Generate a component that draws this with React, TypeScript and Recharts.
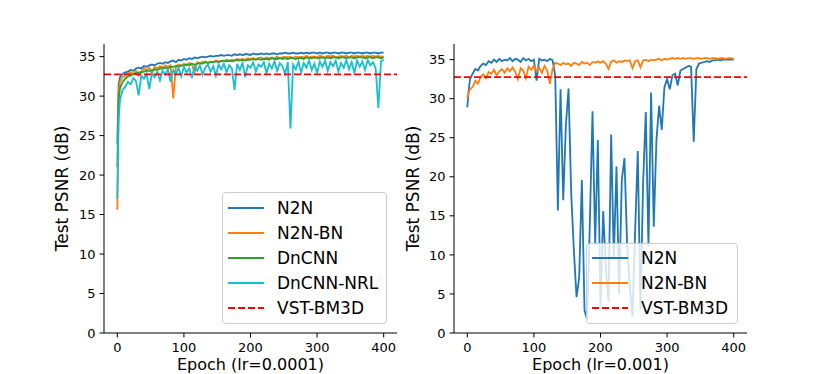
import { LineChart, Line, XAxis, YAxis, ReferenceLine } from 'recharts'

// x grid shared by every series: epoch 0, 2, then every 4 epochs up to 400
const EPOCHS = [0, 2, ...Array.from({ length: 100 }, (_, i) => 4 * (i + 1))]
const X_TICKS = [0, 100, 200, 300, 400]
const Y_TICKS = [0, 5, 10, 15, 20, 25, 30, 35]
const VST_BM3D = 32.75

// left panel, lr=0.0001
const N2N_L = [
  24.0, 31.5, 32.4, 32.8, 33.0, 33.1, 33.3, 33.2, 33.5, 33.6,
  33.5, 33.8, 33.7, 33.9, 34.0, 33.9, 34.1, 34.2, 34.1, 34.3,
  34.2, 34.4, 34.5, 34.3, 34.6, 34.5, 34.7, 34.6, 34.8, 34.7,
  34.9, 34.8, 34.9, 35.0, 34.9, 35.0, 35.1, 35.0, 35.1, 35.1,
  35.2, 35.1, 35.2, 35.2, 35.1, 35.3, 35.2, 35.3, 35.2, 35.3,
  35.3, 35.2, 35.4, 35.3, 35.3, 35.4, 35.3, 35.4, 35.3, 35.4,
  35.4, 35.3, 35.4, 35.4, 35.5, 35.4, 35.4, 35.5, 35.4, 35.4,
  35.5, 35.4, 35.5, 35.4, 35.5, 35.5, 35.4, 35.5, 35.4, 35.5,
  35.5, 35.4, 35.5, 35.5, 35.4, 35.5, 35.5, 35.4, 35.5, 35.5,
  35.4, 35.5, 35.5, 35.4, 35.5, 35.5, 35.4, 35.5, 35.5, 35.4,
  35.5, 35.5,
]
const N2N_BN_L = [
  15.6, 30.7, 31.8, 32.4, 32.6, 32.9, 33.0, 32.8, 33.2, 32.6,
  33.1, 33.5, 33.3, 33.6, 32.8, 33.7, 33.5, 33.8, 33.6, 33.9,
  33.7, 33.9, 29.7, 33.8, 34.0, 33.8, 34.1, 33.9, 34.2, 34.0,
  33.0, 34.3, 34.1, 34.3, 34.4, 34.2, 34.4, 34.3, 34.5, 34.4,
  34.5, 34.4, 34.6, 34.5, 34.6, 34.5, 34.7, 34.6, 34.7, 34.6,
  34.8, 34.7, 34.8, 34.7, 34.8, 34.9, 34.7, 34.9, 34.8, 34.9,
  34.8, 35.0, 34.8, 34.9, 35.0, 34.9, 35.0, 34.8, 35.0, 34.9,
  35.0, 34.9, 35.1, 34.9, 35.0, 35.0, 34.9, 35.1, 35.0, 34.9,
  35.1, 35.0, 35.1, 34.9, 35.0, 35.1, 35.0, 35.1, 34.9, 35.1,
  35.0, 35.1, 35.0, 35.1, 35.0, 35.1, 35.0, 35.1, 35.0, 35.1,
  35.0, 35.0,
]
const DNCNN_L = [
  21.0, 29.5, 31.0, 31.8, 32.2, 32.5, 32.6, 32.8, 32.9, 33.0,
  33.0, 33.1, 33.2, 33.2, 33.3, 33.4, 33.3, 33.5, 33.5, 33.6,
  33.5, 33.7, 33.7, 33.8, 33.7, 33.9, 33.9, 34.0, 33.9, 34.1,
  34.0, 34.1, 34.2, 34.1, 34.3, 34.2, 34.3, 34.3, 34.4, 34.3,
  34.4, 34.5, 34.4, 34.5, 34.4, 34.5, 34.6, 34.5, 34.6, 34.5,
  34.6, 34.6, 34.7, 34.6, 34.7, 34.6, 34.7, 34.7, 34.6, 34.8,
  34.7, 34.7, 34.8, 34.7, 34.8, 34.7, 34.8, 34.8, 34.7, 34.8,
  34.8, 34.7, 34.9, 34.8, 34.8, 34.9, 34.8, 34.8, 34.9, 34.8,
  34.9, 34.8, 34.9, 34.9, 34.8, 34.9, 34.9, 34.8, 34.9, 34.9,
  34.8, 34.9, 34.9, 34.9, 34.8, 34.9, 34.9, 34.8, 34.9, 34.9,
  34.8, 34.9,
]
const DNCNN_NRL_L = [
  17.0, 27.0, 29.5, 30.8, 31.2, 31.8, 31.5, 32.3, 31.9, 30.1,
  32.6, 32.2, 32.8, 30.9, 32.9, 32.4, 33.1, 32.0, 33.2, 32.7,
  33.4, 31.8, 33.3, 32.8, 33.6, 32.5, 33.7, 33.0, 33.5, 32.3,
  33.8, 33.2, 33.9, 32.7, 33.6, 34.0, 33.1, 33.8, 32.6, 34.0,
  33.4, 34.1, 33.0, 33.9, 33.5, 30.8, 34.1, 33.3, 34.2, 32.4,
  33.9, 33.6, 34.3, 33.1, 34.0, 33.7, 34.3, 32.9, 34.1, 33.5,
  34.4, 33.2, 34.2, 33.8, 32.8, 34.3, 25.9, 34.0, 33.4, 34.4,
  33.0, 34.2, 33.6, 34.5, 33.3, 34.1, 32.9, 34.4, 33.7, 34.5,
  33.2, 34.3, 33.8, 34.5, 33.1, 34.2, 33.6, 34.6, 33.4, 34.3,
  32.9, 34.5, 33.7, 34.4, 33.3, 34.6, 33.9, 34.3, 33.5, 28.5,
  34.4, 34.6,
]

// right panel, lr=0.001
const N2N_R = [
  28.9, 31.0, 32.5, 33.2, 33.8, 33.6, 34.2, 34.5, 34.3, 34.8,
  34.6, 35.0, 34.7, 35.1, 34.8, 35.0, 34.9, 35.2, 34.8, 35.1,
  35.0, 34.7, 35.2, 34.9, 35.1, 34.8, 35.0, 32.3, 35.1, 34.9,
  35.0, 34.8, 35.1, 34.9, 33.0, 15.7, 31.2, 17.0, 26.6, 31.3,
  17.9, 10.6, 4.6, 7.1, 19.6, 2.9, 1.7, 14.1, 28.4, 11.3,
  24.7, 3.5, 15.6, 8.5, 4.0, 25.4, 9.6, 21.3, 5.0, 19.6,
  22.4, 11.3, 6.0, 2.1, 13.0, 23.3, 3.0, 19.2, 28.3, 11.1,
  30.8, 13.6, 24.7, 29.1, 26.0, 31.5, 32.5, 31.2, 33.0, 33.2,
  31.7, 33.6, 33.8, 34.0, 34.2, 34.1, 24.5, 33.8, 34.5, 34.6,
  34.7, 34.8, 34.7, 34.9, 34.9, 35.0, 34.9, 35.0, 35.0, 35.0,
  35.0, 35.0,
]
const N2N_BN_R = [
  30.0, 30.8, 31.2, 31.5, 32.3, 31.9, 32.8, 33.1, 32.6, 33.4,
  33.2, 33.7, 33.0, 33.5, 33.8, 33.3, 33.9, 33.5, 34.0, 33.4,
  32.5, 33.9, 33.6, 32.6, 34.1, 33.7, 34.2, 33.5, 34.0, 33.3,
  34.2, 33.6, 31.9, 33.8, 34.6, 34.5, 34.3, 34.6, 34.4, 34.5,
  34.2, 34.6, 34.5, 34.3, 34.7, 34.5, 34.6, 34.3, 34.7, 34.6,
  34.8, 34.6, 34.8, 34.5, 33.8, 34.7, 34.9, 34.6, 34.8, 34.7,
  34.9, 34.8, 34.9, 33.9, 34.8, 34.9, 34.0, 34.9, 35.0, 34.8,
  35.0, 34.9, 35.0, 35.1, 34.9, 35.1, 35.0, 35.1, 35.2, 35.1,
  35.2, 35.1, 35.2, 35.1, 35.2, 35.2, 35.1, 35.2, 35.2, 35.1,
  35.2, 35.2, 35.1, 35.2, 35.2, 35.1, 35.2, 35.2, 35.1, 35.2,
  35.2, 35.1,
]

const FONT = "'DejaVu Sans', sans-serif"
const BLUE = '#1f77b4'
const ORANGE = '#ff7f0e'
const GREEN = '#2ca02c'
const CYAN = '#17becf'
const RED = '#ff0000'
const LW = 1.8
const DASH = '7 3'

type Series = { key: string; name: string; color: string }

const LEFT_SERIES: Series[] = [
  { key: 'n2n', name: 'N2N', color: BLUE },
  { key: 'n2nBn', name: 'N2N-BN', color: ORANGE },
  { key: 'dncnn', name: 'DnCNN', color: GREEN },
  { key: 'nrl', name: 'DnCNN-NRL', color: CYAN },
]
const RIGHT_SERIES: Series[] = [
  { key: 'n2n', name: 'N2N', color: BLUE },
  { key: 'n2nBn', name: 'N2N-BN', color: ORANGE },
]

const leftRows = EPOCHS.map((epoch, i) => ({
  epoch,
  n2n: N2N_L[i],
  n2nBn: N2N_BN_L[i],
  dncnn: DNCNN_L[i],
  nrl: DNCNN_NRL_L[i],
}))
const rightRows = EPOCHS.map((epoch, i) => ({
  epoch,
  n2n: N2N_R[i],
  n2nBn: N2N_BN_R[i],
}))

const tickStyle = { fill: '#000', fontSize: 13, fontFamily: FONT }

function Panel({ left, width, rows, series, yMax, yAxisWidth, marginRight }: {
  left: number
  width: number
  rows: Record<string, number>[]
  series: Series[]
  yMax: number
  yAxisWidth: number
  marginRight: number
}) {
  return (
    <div style={{ position: 'absolute', left, top: 0 }}>
      <LineChart
        width={width}
        height={374}
        data={rows}
        margin={{ top: 44, right: marginRight, bottom: 0, left: 0 }}
      >
        <XAxis
          dataKey="epoch"
          type="number"
          domain={[-20, 420]}
          ticks={X_TICKS}
          interval={0}
          allowDataOverflow
          height={41}
          tickSize={4.5}
          tickMargin={5}
          stroke="#000"
          tick={tickStyle}
        />
        <YAxis
          type="number"
          domain={[0, yMax]}
          ticks={Y_TICKS}
          interval={0}
          allowDataOverflow
          width={yAxisWidth}
          tickSize={4.5}
          tickMargin={4}
          stroke="#000"
          tick={tickStyle}
        />
        {series.map((s) => (
          <Line
            key={s.key}
            type="linear"
            dataKey={s.key}
            stroke={s.color}
            strokeWidth={LW}
            dot={false}
            isAnimationActive={false}
          />
        ))}
        <ReferenceLine y={VST_BM3D} stroke={RED} strokeWidth={LW} strokeDasharray={DASH} />
      </LineChart>
    </div>
  )
}

function LegendBox({ items, left, top, width, height, firstRow }: {
  items: { name: string; color: string; dashed?: boolean }[]
  left: number
  top: number
  width: number
  height: number
  firstRow: number
}) {
  return (
    <div
      style={{
        position: 'absolute',
        left,
        top,
        width,
        height,
        boxSizing: 'border-box',
        border: '1px solid #cccccc',
        borderRadius: 4,
        background: 'rgba(255,255,255,0.8)',
        fontFamily: FONT,
        fontSize: 17,
        color: '#000',
      }}
    >
      {items.map((it, i) => (
        <div
          key={it.name}
          style={{
            position: 'absolute',
            left: 5,
            top: firstRow + i * 25 - 12,
            height: 24,
            display: 'flex',
            alignItems: 'center',
            whiteSpace: 'nowrap',
          }}
        >
          <svg width={36} height={6} style={{ marginRight: 13 }}>
            <line
              x1={0}
              y1={3}
              x2={36}
              y2={3}
              stroke={it.color}
              strokeWidth={LW}
              strokeDasharray={it.dashed ? DASH : undefined}
            />
          </svg>
          <span>{it.name}</span>
        </div>
      ))}
    </div>
  )
}

export default function App() {
  const bm3d = { name: 'VST-BM3D', color: RED, dashed: true }
  return (
    <div style={{ position: 'absolute', left: 0, top: 0, width: 830, height: 374, background: '#fff', overflow: 'hidden' }}>
      <Panel left={0} width={415} rows={leftRows} series={LEFT_SERIES} yMax={36.6} yAxisWidth={104} marginRight={18} />
      <Panel left={415} width={415} rows={rightRows} series={RIGHT_SERIES} yMax={37.0} yAxisWidth={39} marginRight={83} />
      <svg width={830} height={374} style={{ position: 'absolute', left: 0, top: 0, pointerEvents: 'none' }}>
        <g fontFamily={FONT} fill="#000">
          <text x={62} y={188.5} fontSize={17} textAnchor="middle" dominantBaseline="central" transform="rotate(-90 62 188.5)">
            Test PSNR (dB)
          </text>
          <text x={413} y={188.5} fontSize={17} textAnchor="middle" dominantBaseline="central" transform="rotate(-90 413 188.5)">
            Test PSNR (dB)
          </text>
          <text x={250.5} y={370} fontSize={16} textAnchor="middle">Epoch (lr=0.0001)</text>
          <text x={600.5} y={370} fontSize={16} textAnchor="middle">Epoch (lr=0.001)</text>
        </g>
      </svg>
      <LegendBox
        items={[...LEFT_SERIES, bm3d]}
        left={222}
        top={192}
        width={165}
        height={132}
        firstRow={14.7}
      />
      <LegendBox
        items={[...RIGHT_SERIES, bm3d]}
        left={586}
        top={243}
        width={152}
        height={81}
        firstRow={13.7}
      />
    </div>
  )
}
